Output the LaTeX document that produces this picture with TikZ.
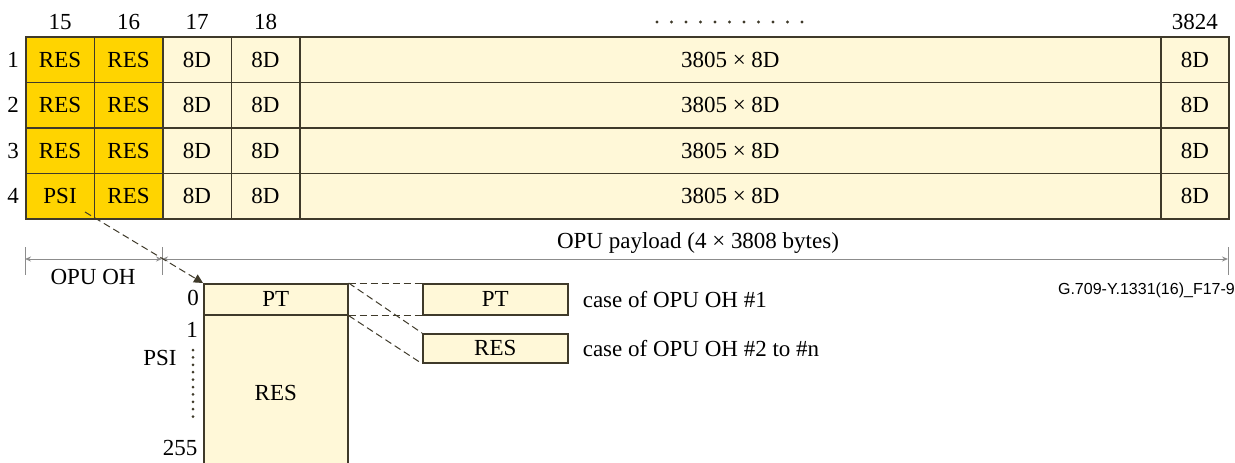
\documentclass[tikz,border=0pt]{standalone}
\usepackage{fontspec}
\setmainfont{Liberation Serif}
\newfontfamily\figfont{Liberation Sans}
\usetikzlibrary{arrows.meta,positioning,calc}
\definecolor{resfill}{HTML}{FFD400}
\definecolor{dfill}{HTML}{FFF8D8}
\definecolor{edge}{HTML}{3F3A2A}
\definecolor{dimc}{HTML}{8C8C8C}

\begin{document}
\begin{tikzpicture}[x=1pt, y=-1pt, font=\fontsize{23}{27}\selectfont, >=Stealth,
  cell/.style={draw=edge, line width=1.6pt, inner sep=0pt, anchor=north west, minimum height=45.6pt},
  ohcell/.style={cell, fill=resfill, minimum width=68.5pt},
  dcell/.style={cell, fill=dfill, minimum width=68.5pt},
  lbl/.style={inner sep=0pt},
  dimline/.style={draw=dimc, line width=1pt},
  dimtip/.style={{Stealth[length=6pt,width=5pt]}-{Stealth[length=6pt,width=5pt]}},
  link/.style={draw=edge, line width=1pt, dash pattern=on 7pt off 4pt}]
  \useasboundingbox (0,0) rectangle (1235,463);
  % OPU rows 1..4
  \foreach \r/\first in {1/RES,2/RES,3/RES,4/PSI} {
    \pgfmathsetmacro\rowy{36+45.6*(\r-1)}
    \node[ohcell] (c15-\r) at (25,\rowy) {\first};
    \node[ohcell] (c16-\r) at (93.5,\rowy) {RES};
    \node[dcell] (c17-\r) at (162,\rowy) {8D};
    \node[dcell] (c18-\r) at (230.5,\rowy) {8D};
    \node[dcell, minimum width=861pt] (cmid-\r) at (299,\rowy) {3805 × 8D};
    \node[dcell, minimum width=68pt] (c3824-\r) at (1160,\rowy) {8D};
    \node[lbl, left=6pt of c15-\r] (row\r) {\r};
  }
  % column numbers
  \foreach \c in {15,16,17,18,3824}
    \node[lbl, above=6pt of c\c-1] (h\c) {\c};
  \foreach \i in {0,...,10}
    \fill[edge] (657+14.5*\i,22) circle (1.6pt);
  % overhead / payload extents
  \coordinate (dimL) at (25,259);
  \coordinate (dimM) at (162,259);
  \coordinate (dimR) at (1228,259);
  \foreach \p in {dimL,dimM,dimR}
    \draw[dimline] ($(\p)+(0,-12)$) -- ($(\p)+(0,16)$);
  \draw[dimline, dimtip] (dimL) -- (dimM);
  \draw[dimline, dimtip] (dimM) -- (dimR);
  \node[lbl] (ohlbl) at (93,277) {OPU OH};
  \node[lbl] (paylbl) at (698,243) {OPU payload (4 × 3808 bytes)};
  \node[lbl, anchor=east, font=\figfont\fontsize{16}{19}\selectfont] (figid) at (1235,290) {G.709-Y.1331(16)\_F17-9};
  % PSI byte layout
  \node[cell, fill=dfill, minimum width=144pt, minimum height=31pt] (pt) at (203,283) {PT};
  \node[cell, fill=dfill, minimum width=144pt, minimum height=156pt] (psires) at (203,314) {RES};
  \node[lbl] (idx0) at (193,298) {0};
  \node[lbl] (idx1) at (192,330) {1};
  \node[lbl] (idx255) at (180,448) {255};
  \node[lbl] (psilbl) at (160,358) {PSI};
  \foreach \i in {0,...,9}
    \fill[edge] (193,350+7.4*\i) circle (1.5pt);
  \coordinate (psitap) at (85,212);
  \draw[link, -{Triangle[length=9pt,width=9pt]}] (psitap) -- (pt.north west);
  % the two cases
  \node[cell, fill=dfill, minimum width=145pt, minimum height=31pt] (pt1) at (422,283) {PT};
  \node[cell, fill=dfill, minimum width=145pt, minimum height=29pt] (res2) at (422,333) {RES};
  \node[lbl, anchor=west, right=14pt of pt1] (case1) {case of OPU OH \#1};
  \node[lbl, anchor=west, right=14pt of res2] (case2) {case of OPU OH \#2 to \#n};
  \draw[link] (pt.north east) -- (pt1.north west);
  \draw[link] (pt.south east) -- (pt1.south west);
  \draw[link] (pt.north east) -- (res2.north west);
  \draw[link] (pt.south east) -- (res2.south west);
\end{tikzpicture}
\end{document}
